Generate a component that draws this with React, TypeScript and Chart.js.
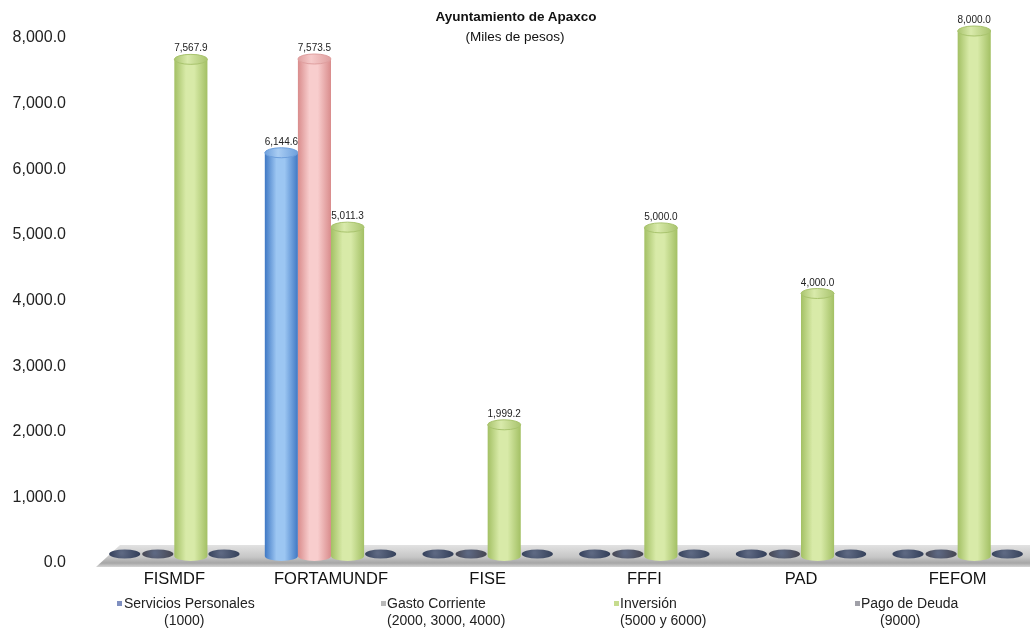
import React, { useEffect, useRef } from "react";
import { Chart, registerables } from "chart.js";

Chart.register(...registerables);

const categories = ["FISMDF", "FORTAMUNDF", "FISE", "FFFI", "PAD", "FEFOM"];
const serviciosPersonales = [0, 6144.6, 0, 0, 0, 0];
const gastoCorriente = [0, 7573.5, 0, 0, 0, 0];
const inversion = [7567.9, 5011.3, 1999.2, 5000.0, 4000.0, 8000.0];
const pagoDeuda = [0, 0, 0, 0, 0, 0];
const seriesNames = [
  ["Servicios Personales", "(1000)"],
  ["Gasto Corriente", "(2000, 3000, 4000)"],
  ["Inversión", "(5000 y 6000)"],
  ["Pago de Deuda", "(9000)"],
];
const yMax = 8000;
const yStep = 1000;

const palette = [
  { edge: "#3f78c4", mid: "#9cc6f2", cap: "#a9cdf3", capEdge: "#6d9fdc", zero: "#2f3b56", marker: "#7f8fc0" },
  { edge: "#d98c8c", mid: "#f8cdcd", cap: "#f6caca", capEdge: "#df9f9f", zero: "#44434e", marker: "#b8b8b8" },
  { edge: "#a3c064", mid: "#d8eaa8", cap: "#d9eaab", capEdge: "#a9c46e", zero: "#353f55", marker: "#c6dc8e" },
  { edge: "#777", mid: "#bbb", cap: "#ccc", capEdge: "#888", zero: "#333f58", marker: "#a0a0a8" },
];

const fmt = (v: number) =>
  v.toLocaleString("en-US", { minimumFractionDigits: 1, maximumFractionDigits: 1 });

const cylinderPlugin = {
  id: "cylinder",
  beforeDatasetsDraw(chart: any) {
    const ctx = chart.ctx;
    const area = chart.chartArea;
    const base = chart.scales.y.getPixelForValue(0);
    ctx.save();
    const top = base - 11;
    const bot = base + 11;
    const g = ctx.createLinearGradient(0, top, 0, bot);
    g.addColorStop(0, "#e2e2e2");
    g.addColorStop(0.55, "#c6c6c6");
    g.addColorStop(0.82, "#a6a6a6");
    g.addColorStop(1, "#d4d4d4");
    ctx.fillStyle = g;
    ctx.beginPath();
    ctx.moveTo(area.left, bot);
    ctx.lineTo(area.left + 24, top);
    ctx.lineTo(chart.width, top);
    ctx.lineTo(chart.width, bot);
    ctx.closePath();
    ctx.fill();
    ctx.restore();
  },
  afterDatasetsDraw(chart: any) {
    const ctx = chart.ctx;
    const base = chart.scales.y.getPixelForValue(0);
    chart.data.datasets.forEach((ds: any, di: number) => {
      const meta = chart.getDatasetMeta(di);
      const col = palette[di];
      meta.data.forEach((el: any, i: number) => {
        const v = ds.data[i];
        const w = el.width;
        const rx = w / 2;
        const cx = el.x;
        ctx.save();
        if (!v) {
          const zg = ctx.createRadialGradient(cx - 3, base - 3, 1, cx, base - 2, rx);
          zg.addColorStop(0, "#5d6882");
          zg.addColorStop(1, col.zero);
          ctx.fillStyle = zg;
          ctx.beginPath();
          ctx.ellipse(cx, base - 2, rx - 1, 4.5, 0, 0, Math.PI * 2);
          ctx.fill();
          ctx.restore();
          return;
        }
        const ry = 5;
        const ty = el.y;
        const bg = ctx.createLinearGradient(cx - rx, 0, cx + rx, 0);
        bg.addColorStop(0, col.edge);
        bg.addColorStop(0.35, col.mid);
        bg.addColorStop(0.6, col.mid);
        bg.addColorStop(1, col.edge);
        ctx.fillStyle = bg;
        ctx.beginPath();
        ctx.moveTo(cx - rx, ty);
        ctx.lineTo(cx - rx, base);
        ctx.ellipse(cx, base, rx, ry, 0, Math.PI, 0, true);
        ctx.lineTo(cx + rx, ty);
        ctx.closePath();
        ctx.fill();
        const cg = ctx.createLinearGradient(cx - rx, 0, cx + rx, 0);
        cg.addColorStop(0, col.capEdge);
        cg.addColorStop(0.4, col.cap);
        cg.addColorStop(1, col.capEdge);
        ctx.fillStyle = cg;
        ctx.beginPath();
        ctx.ellipse(cx, ty, rx, ry, 0, 0, Math.PI * 2);
        ctx.fill();
        ctx.strokeStyle = col.capEdge;
        ctx.lineWidth = 1;
        ctx.stroke();
        ctx.fillStyle = "#222";
        ctx.font = "10px 'Liberation Sans', Arial, sans-serif";
        ctx.textAlign = "center";
        ctx.textBaseline = "alphabetic";
        ctx.fillText(fmt(v), cx, ty - ry - 3);
        ctx.restore();
      });
    });
  },
};

export default function App() {
  const ref = useRef<HTMLCanvasElement>(null);
  useEffect(() => {
    if (!ref.current) return;
    const allSeries = [serviciosPersonales, gastoCorriente, inversion, pagoDeuda];
    const chart = new Chart(ref.current, {
      type: "bar",
      data: {
        labels: categories,
        datasets: allSeries.map((d, i) => ({
          label: seriesNames[i].join(" "),
          data: d,
          backgroundColor: "rgba(0,0,0,0)",
          borderWidth: 0,
          categoryPercentage: 0.845,
          barPercentage: 1.0,
        })),
      },
      options: {
        responsive: false,
        animation: false,
        layout: { padding: { top: 31, right: 4, left: 0, bottom: 0 } },
        plugins: {
          legend: { display: false },
          title: { display: false },
          tooltip: { enabled: false },
        },
        scales: {
          x: {
            grid: { display: false, drawTicks: false },
            border: { display: false },
            ticks: {
              padding: 14,
              color: "#111",
              font: { family: "'Liberation Sans', Arial, sans-serif", size: 16.5 },
            },
            afterFit: (s: any) => {
              s.height = 80;
              s.paddingLeft = 0;
              s.paddingRight = 0;
            },
          },
          y: {
            min: 0,
            max: yMax,
            grid: { display: false, drawTicks: false },
            border: { display: false },
            ticks: {
              stepSize: yStep,
              padding: 30,
              labelOffset: 7,
              color: "#222",
              font: { family: "'Liberation Sans', Arial, sans-serif", size: 16 },
              callback: (v: any) => fmt(Number(v)),
            },
            afterFit: (s: any) => {
              s.width = 96;
              s.paddingTop = 0;
              s.paddingBottom = 0;
            },
          },
        },
      },
      plugins: [cylinderPlugin],
    });
    return () => chart.destroy();
  }, []);

  const legendPos = [
    { m: 117, l1: 124, l2: 164 },
    { m: 381, l1: 387, l2: 387 },
    { m: 614, l1: 620, l2: 620 },
    { m: 855, l1: 861, l2: 880 },
  ];
  const font = "'Liberation Sans', Arial, sans-serif";
  return (
    <div
      style={{
        position: "absolute",
        left: 0,
        top: 0,
        width: 1030,
        height: 636,
        overflow: "hidden",
        background: "#fff",
        fontFamily: font,
      }}
    >
      <canvas ref={ref} width={1040} height={636} style={{ position: "absolute", left: 0, top: 0 }} />
      <div
        style={{
          position: "absolute",
          left: 0,
          width: 1030,
          top: 7,
          textAlign: "center",
          fontSize: 13.5,
          lineHeight: "20px",
          color: "#111",
        }}
      >
        <div style={{ fontWeight: "bold", paddingLeft: 2 }}>Ayuntamiento de Apaxco</div>
        <div style={{ marginTop: 0 }}>(Miles de pesos)</div>
      </div>
      {seriesNames.map((n, i) => (
        <React.Fragment key={i}>
          <div
            style={{
              position: "absolute",
              left: legendPos[i].m,
              top: 601,
              width: 5,
              height: 5,
              background: palette[i].marker,
            }}
          />
          <div
            style={{
              position: "absolute",
              left: legendPos[i].l1,
              top: 595,
              fontSize: 14,
              lineHeight: "16px",
              color: "#222",
              whiteSpace: "nowrap",
            }}
          >
            {n[0]}
          </div>
          <div
            style={{
              position: "absolute",
              left: legendPos[i].l2,
              top: 612,
              fontSize: 14,
              lineHeight: "16px",
              color: "#222",
              whiteSpace: "nowrap",
            }}
          >
            {n[1]}
          </div>
        </React.Fragment>
      ))}
    </div>
  );
}
